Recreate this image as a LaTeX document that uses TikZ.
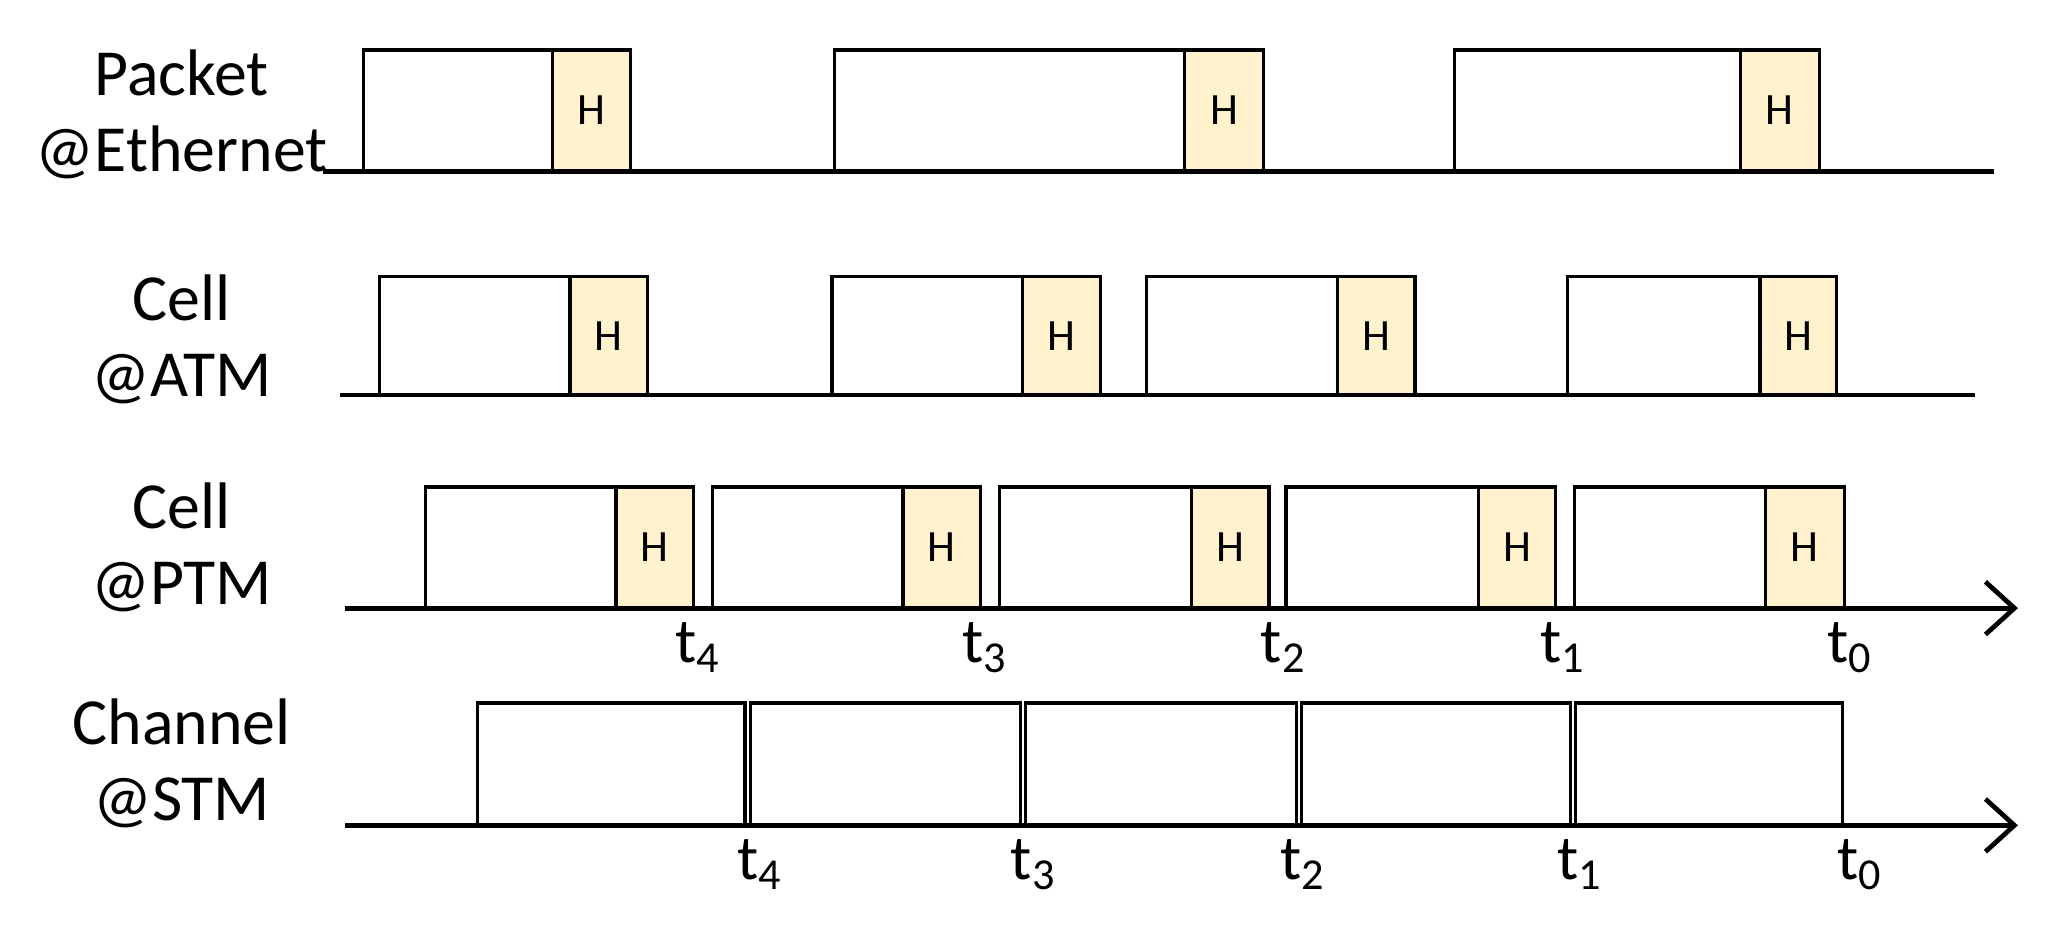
\documentclass[tikz,border=0pt]{standalone}
\usepackage{fontspec}
\setmainfont{Carlito}
\usetikzlibrary{arrows.meta}
\definecolor{hfill}{HTML}{FFF2CC}
\tikzset{
 pkt/.style={draw=black,line width=1.2pt,fill=white},
 hbox/.style={draw=black,line width=1.2pt,fill=hfill},
 base/.style={line width=1.8pt},
 lbl/.style={align=center,font=\fontsize{25}{29}\selectfont},
 tl/.style={font=\fontsize{24}{28}\selectfont,anchor=north},
 htxt/.style={font=\fontsize{17}{20}\selectfont}
}
\begin{document}
\begin{tikzpicture}[x=0.5pt,y=-0.5pt]
\useasboundingbox (0,0) rectangle (1568,708);
% labels
\node[lbl] (l1) at (138,87) {Packet\\@Ethernet};
\node[lbl] (l2) at (138,258) {Cell\\@ATM};
\node[lbl] (l3) at (138,416) {Cell\\@PTM};
\node[lbl] (l4) at (138,580) {Channel\\@STM};
% row 1
\foreach \a/\b/\c in {276/420/479,634/900/960,1105/1322/1382}{
 \draw[pkt] (\a,38) rectangle (\b,130);
 \draw[hbox] (\b,38) rectangle (\c,130);
 \node[htxt] at ({(\b+\c)/2},84) {H};
}
\draw[base] (245,130) -- (1515,130);
% row 2
\foreach \a/\b/\c in {288/433/492,632/777/836,871/1016/1075,1191/1337/1395}{
 \draw[pkt] (\a,210) rectangle (\b,300);
 \draw[hbox] (\b,210) rectangle (\c,300);
 \node[htxt] at ({(\b+\c)/2},255) {H};
}
\draw[base] (258,300) -- (1500,300);
% row 3
\foreach \a/\b/\c in {323/468/527,541/686/745,759/905/964,977/1123/1182,1196/1341/1401}{
 \draw[pkt] (\a,370) rectangle (\b,462);
 \draw[hbox] (\b,370) rectangle (\c,462);
 \node[htxt] at ({(\b+\c)/2},416) {H};
}
\draw[base,-{Straight Barb[length=11pt,width=20pt,line width=1.8pt]}] (262,462) -- (1533,462);
\foreach \x/\t in {530/4,748/3,975/2,1187/1,1405/0}
 \node[tl] at (\x,466) {t\textsubscript{\t}};
% row 4
\foreach \a/\b in {363/566,570/775,779/985,989/1193,1197/1400}
 \draw[pkt] (\a,534) rectangle (\b,627);
\draw[base,-{Straight Barb[length=11pt,width=20pt,line width=1.8pt]}] (262,627) -- (1533,627);
\foreach \x/\t in {577/4,785/3,990/2,1200/1,1413/0}
 \node[tl] at (\x,631) {t\textsubscript{\t}};
\end{tikzpicture}
\end{document}
